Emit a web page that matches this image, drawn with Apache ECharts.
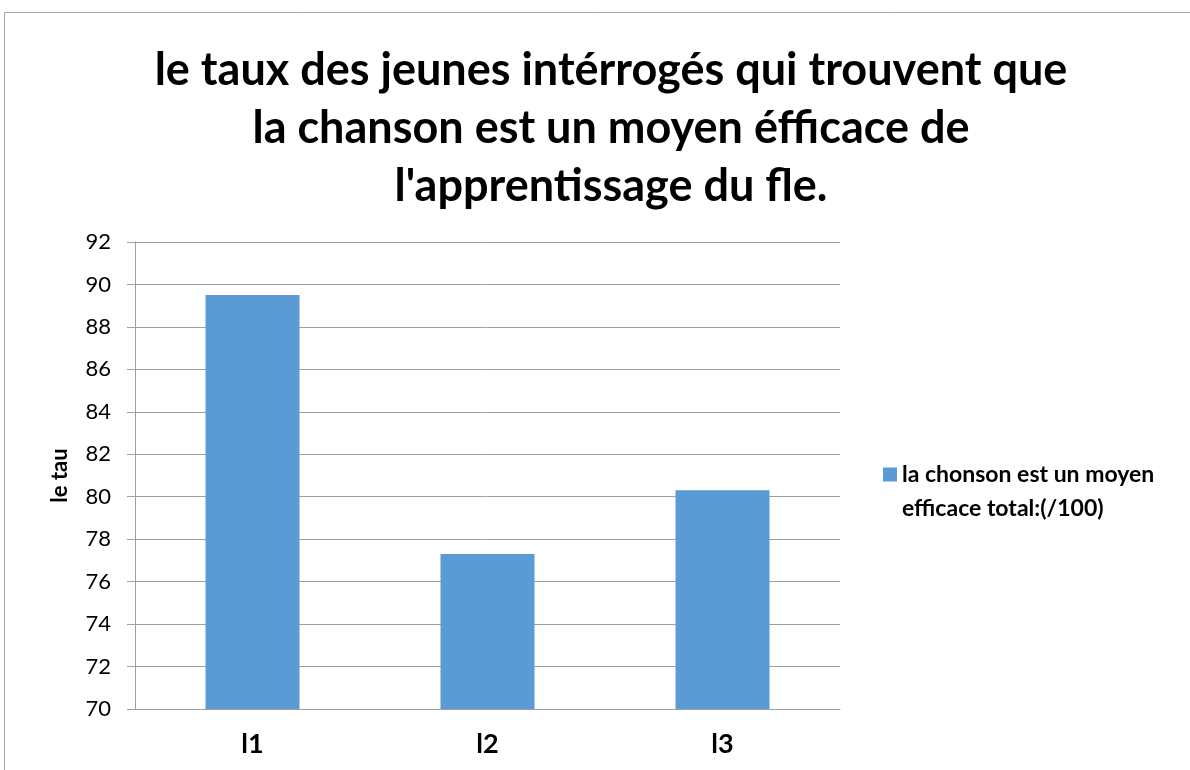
<!DOCTYPE html>
<html><head><meta charset="utf-8">
<script src="https://cdn.jsdelivr.net/npm/echarts@6/dist/echarts.min.js"></script>
<style>html,body{margin:0;padding:0;background:#fff}#c{width:1190px;height:770px}</style>
</head><body><div id="c"></div>
<script>
const categories = ['l1', 'l2', 'l3'];
const values = [89.5, 77.3, 80.3];
const seriesName = 'la chonson est un moyen efficace total:(/100)';
const legendLines = ['la chonson est un moyen', 'efficace total:(/100)'];
const titleText = "le taux des jeunes intérrogés qui trouvent que\nla chanson est un moyen éfficace de\nl'apprentissage du fle.";
const yName = 'le tau';

const F = 'Lato, "Noto Sans", sans-serif';
const chart = echarts.init(document.getElementById('c'), null, {renderer: 'canvas'});
chart.setOption({
  animation: false,
  graphic: [
    {type: 'rect', shape: {x: 4.5, y: 12.5, width: 1200, height: 800}, style: {fill: 'none', stroke: '#a6a6a6', lineWidth: 1}, z: -1},
    {type: 'text', left: 902, top: 497, style: {text: legendLines[1], font: 'bold 23px ' + F, fill: '#000'}}
  ],
  title: {text: titleText, left: 606, top: 36, textAlign: 'center',
    textStyle: {fontFamily: F, fontSize: 45, fontWeight: 'bold', color: '#000', lineHeight: 58}},
  grid: {left: 135, right: 350, top: 242, bottom: 61},
  legend: {orient: 'vertical', left: 883, top: 463, padding: 0, itemWidth: 14, itemHeight: 14, icon: 'rect', itemGap: 7,
    formatter: () => legendLines[0],
    textStyle: {fontFamily: F, fontSize: 23, fontWeight: 'bold', color: '#000'}},
  xAxis: {type: 'category', data: categories,
    axisLine: {lineStyle: {color: '#a0a0a0'}}, axisTick: {show: false},
    axisLabel: {fontFamily: F, fontSize: 27, fontWeight: 'bold', color: '#000', margin: 22}},
  yAxis: {type: 'value', min: 70, max: 92, interval: 2, name: yName, nameLocation: 'middle', nameGap: 64,
    nameTextStyle: {fontFamily: F, fontSize: 22, fontWeight: 'bold', color: '#000'},
    axisLine: {show: true, lineStyle: {color: '#a0a0a0'}},
    axisTick: {show: true, inside: false, length: 8, lineStyle: {color: '#a0a0a0'}},
    splitLine: {lineStyle: {color: '#a0a0a0'}},
    axisLabel: {fontFamily: F, fontSize: 22, color: '#000', margin: 24}},
  series: [{name: seriesName, type: 'bar', data: values, barWidth: '40%', itemStyle: {color: '#5b9bd5'}}]
});
</script></body></html>
